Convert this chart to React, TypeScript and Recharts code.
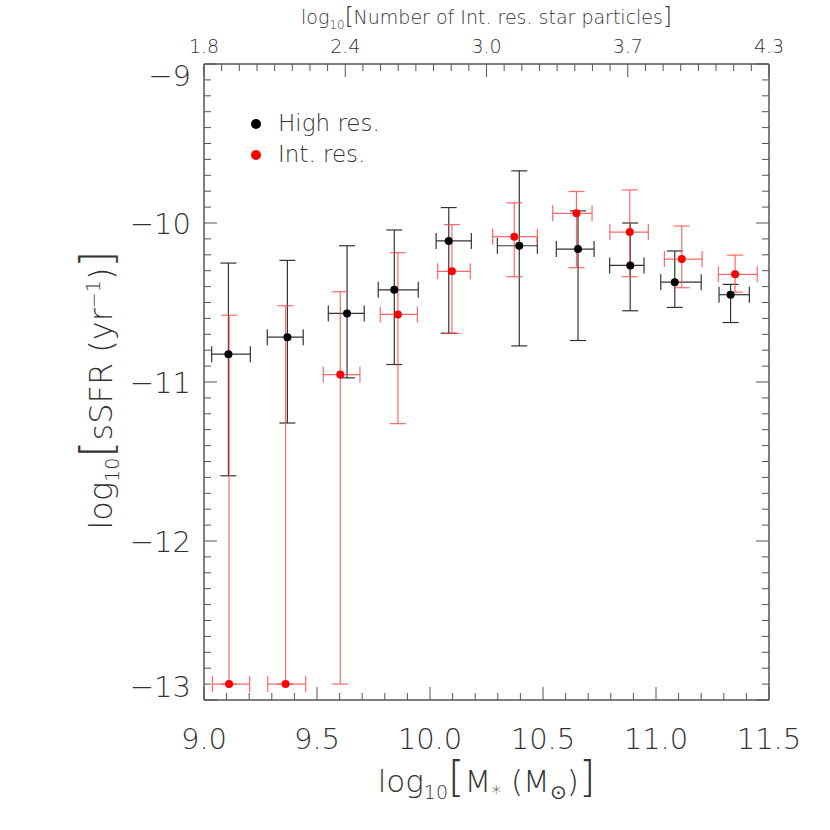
import { ScatterChart, Scatter, XAxis, YAxis, ErrorBar } from "recharts";

// High res. sample
const massHigh = [9.108, 9.369, 9.633, 9.842, 10.083, 10.395, 10.655, 10.886, 11.083, 11.33];
const ssfrHigh = [-10.825, -10.718, -10.569, -10.42, -10.113, -10.143, -10.164, -10.267, -10.372, -10.451];
const massLoHigh = [9.034, 9.28, 9.55, 9.771, 10.027, 10.298, 10.559, 10.795, 11.021, 11.279];
const massHiHigh = [9.205, 9.439, 9.709, 9.948, 10.183, 10.475, 10.726, 10.947, 11.2, 11.413];
const ssfrLoHigh = [-11.59, -11.258, -10.974, -10.89, -10.693, -10.773, -10.739, -10.552, -10.531, -10.626];
const ssfrHiHigh = [-10.252, -10.235, -10.143, -10.044, -9.903, -9.672, -9.924, -10.0, -10.176, -10.386];

// Int. res. sample
const massInt = [9.111, 9.361, 9.603, 9.858, 10.097, 10.373, 10.648, 10.884, 11.114, 11.35];
const ssfrInt = [-12.9, -12.9, -10.953, -10.575, -10.304, -10.086, -9.939, -10.057, -10.227, -10.323];
const massLoInt = [9.037, 9.282, 9.528, 9.78, 10.034, 10.277, 10.543, 10.796, 11.037, 11.276];
const massHiInt = [9.202, 9.45, 9.69, 9.944, 10.178, 10.475, 10.717, 10.966, 11.204, 11.448];
const ssfrLoInt = [-12.9, -12.9, -12.9, -11.262, -10.695, -10.338, -10.281, -10.338, -10.407, -10.435];
const ssfrHiInt = [-10.58, -10.52, -10.432, -10.187, -10.01, -9.873, -9.802, -9.792, -10.019, -10.202];

// axes
const xMajor = [9.0, 9.5, 10.0, 10.5, 11.0, 11.5];
const yMajor = [-9, -10, -11, -12, -13];
const topLabels = ["1.8", "2.4", "3.0", "3.7", "4.3"];

const X_MIN = 9.0;
const X_MAX = 11.5;
const Y_MIN = -13;
const Y_MAX = -9;

const FONT = '"DejaVu Sans", sans-serif';
const TEXT = "#333";
const AXIS = "#555";

function buildRows(mass: number[], ssfr: number[], xlo: number[], xhi: number[], ylo: number[], yhi: number[]) {
  return mass.map((m, i) => ({
    mass: m,
    ssfr: ssfr[i],
    ex: [m - xlo[i], xhi[i] - m],
    ey: [ssfr[i] - ylo[i], yhi[i] - ssfr[i]],
  }));
}

const highRows = buildRows(massHigh, ssfrHigh, massLoHigh, massHiHigh, ssfrLoHigh, ssfrHiHigh);
const intRows = buildRows(massInt, ssfrInt, massLoInt, massHiInt, ssfrLoInt, ssfrHiInt);

// minor ticks every 0.1
const xTicks: number[] = [];
for (let i = 0; i <= 25; i++) xTicks.push(Math.round((X_MIN + i * 0.1) * 10) / 10);
const yTicks: number[] = [];
for (let i = 0; i <= 40; i++) yTicks.push(Math.round((Y_MIN + i * 0.1) * 10) / 10);
const topTicks: number[] = [];
for (let i = 0; i <= 32; i++) topTicks.push(X_MIN + (i * (X_MAX - X_MIN)) / 32);

const near = (a: number, b: number) => Math.abs(a - b) < 1e-6;

function BottomTick({ x, y, payload }: any) {
  const v = payload.value;
  const major = xMajor.some((m) => near(m, v));
  return (
    <g>
      <line x1={x} x2={x} y1={y} y2={y - (major ? 13 : 7)} stroke={AXIS} strokeWidth={1} />
      {major && (
        <text x={x} y={y + 49} textAnchor="middle" fontSize={29} fontFamily={FONT} fontWeight={200} fill={TEXT}>
          {v.toFixed(1)}
        </text>
      )}
    </g>
  );
}

function TopTick({ x, y, index }: any) {
  const major = index % 8 === 0;
  return (
    <g>
      <line x1={x} x2={x} y1={y} y2={y + (major ? 13 : 7)} stroke={AXIS} strokeWidth={1} />
      {major && (
        <text x={x} y={y - 11} textAnchor="middle" fontSize={19} fontFamily={FONT} fontWeight={200} fill={TEXT}>
          {topLabels[index / 8]}
        </text>
      )}
    </g>
  );
}

function LeftTick({ x, y, payload }: any) {
  const v = payload.value;
  const major = yMajor.some((m) => near(m, v));
  let shift = 0;
  if (near(v, Y_MAX)) shift = 11;
  if (near(v, Y_MIN)) shift = -14;
  return (
    <g>
      <line x1={x} x2={x + (major ? 13 : 7)} y1={y} y2={y} stroke={AXIS} strokeWidth={1} />
      {major && (
        <text
          x={x - 13}
          y={y + shift + 11}
          textAnchor="end"
          fontSize={29}
          fontFamily={FONT}
          fontWeight={200}
          fill={TEXT}
        >
          {"\u2212" + Math.abs(v)}
        </text>
      )}
    </g>
  );
}

function RightTick({ x, y, payload }: any) {
  const v = payload.value;
  const major = yMajor.some((m) => near(m, v));
  return <line x1={x} x2={x - (major ? 13 : 7)} y1={y} y2={y} stroke={AXIS} strokeWidth={1} />;
}

const dot = (color: string) => (props: any) => <circle cx={props.cx} cy={props.cy} r={4} fill={color} />;

export default function App() {
  return (
    <div style={{ position: "absolute", left: 0, top: 0, width: 830, height: 830, background: "#fff" }}>
      <ScatterChart width={830} height={830} margin={{ top: 34, right: 1, bottom: 100, left: 144 }}>
        <XAxis
          xAxisId="b"
          type="number"
          dataKey="mass"
          domain={[X_MIN, X_MAX]}
          ticks={xTicks}
          interval={0}
          tick={<BottomTick />}
          tickSize={0}
          tickMargin={0}
          tickLine={false}
          axisLine={{ stroke: AXIS, strokeWidth: 1.5 }}
          allowDataOverflow
          height={30}
        />
        <XAxis
          xAxisId="t"
          orientation="top"
          type="number"
          dataKey="mass"
          domain={[X_MIN, X_MAX]}
          ticks={topTicks}
          interval={0}
          tick={<TopTick />}
          tickSize={0}
          tickMargin={0}
          tickLine={false}
          axisLine={{ stroke: AXIS, strokeWidth: 1.5 }}
          allowDataOverflow
          height={30}
        />
        <YAxis
          yAxisId="l"
          type="number"
          dataKey="ssfr"
          domain={[Y_MIN, Y_MAX]}
          ticks={yTicks}
          interval={0}
          tick={<LeftTick />}
          tickSize={0}
          tickMargin={0}
          tickLine={false}
          axisLine={{ stroke: AXIS, strokeWidth: 1.5 }}
          allowDataOverflow
          width={60}
        />
        <YAxis
          yAxisId="r"
          orientation="right"
          type="number"
          dataKey="ssfr"
          domain={[Y_MIN, Y_MAX]}
          ticks={yTicks}
          interval={0}
          tick={<RightTick />}
          tickSize={0}
          tickMargin={0}
          tickLine={false}
          axisLine={{ stroke: AXIS, strokeWidth: 1.5 }}
          allowDataOverflow
          width={60}
        />
        <Scatter
          name="High res."
          data={highRows}
          xAxisId="b"
          yAxisId="l"
          fill="#000"
          shape={dot("#000")}
          isAnimationActive={false}
        >
          <ErrorBar dataKey="ex" direction="x" width={8} stroke="#333" strokeWidth={1.2} isAnimationActive={false} />
          <ErrorBar dataKey="ey" direction="y" width={8} stroke="#333" strokeWidth={1.2} isAnimationActive={false} />
        </Scatter>
        <Scatter
          name="Int. res."
          data={intRows}
          xAxisId="b"
          yAxisId="l"
          fill="#ff0000"
          shape={dot("#ff0000")}
          isAnimationActive={false}
        >
          <ErrorBar dataKey="ex" direction="x" width={8} stroke="#ff4444" strokeOpacity={0.8} strokeWidth={1.2} isAnimationActive={false} />
          <ErrorBar dataKey="ey" direction="y" width={8} stroke="#ff4444" strokeOpacity={0.8} strokeWidth={1.2} isAnimationActive={false} />
        </Scatter>
      </ScatterChart>

      {/* legend */}
      <div style={{ position: "absolute", left: 251, top: 108, fontFamily: FONT, fontWeight: 200, fontSize: 23, color: TEXT, lineHeight: "31px" }}>
        <div style={{ display: "flex", alignItems: "center" }}>
          <span style={{ display: "inline-block", width: 10, height: 10, borderRadius: 5, background: "#000", marginRight: 17 }} />
          <span>High res.</span>
        </div>
        <div style={{ display: "flex", alignItems: "center" }}>
          <span style={{ display: "inline-block", width: 10, height: 10, borderRadius: 5, background: "#ff0000", marginRight: 17 }} />
          <span>Int. res.</span>
        </div>
      </div>

      {/* top title */}
      <div style={{ position: "absolute", left: 204, width: 565, top: 4, textAlign: "center", fontFamily: FONT, fontWeight: 200, fontSize: 19, lineHeight: "24px", color: TEXT, whiteSpace: "nowrap" }}>
        log<sub style={{ fontSize: 12, lineHeight: 0 }}>10</sub>
        <span style={{ fontSize: 23 }}>[</span>Number of Int. res. star particles<span style={{ fontSize: 23 }}>]</span>
      </div>

      {/* bottom title */}
      <div style={{ position: "absolute", left: 204, width: 565, top: 758, textAlign: "center", fontFamily: FONT, fontWeight: 200, fontSize: 31, lineHeight: "40px", color: TEXT, whiteSpace: "nowrap" }}>
        log<sub style={{ fontSize: 19, lineHeight: 0 }}>10</sub>
        <span style={{ fontSize: 42, lineHeight: "40px" }}>[</span>M<sub style={{ fontSize: 20, lineHeight: 0 }}>*</sub> (M<sub style={{ fontSize: 20, lineHeight: 0 }}>⊙</sub>)
        <span style={{ fontSize: 42, lineHeight: "40px" }}>]</span>
      </div>

      {/* left title */}
      <div
        style={{
          position: "absolute",
          left: 97,
          top: 390,
          transform: "translate(-50%, -50%) rotate(-90deg)",
          fontFamily: FONT,
          fontWeight: 200,
          fontSize: 32,
          color: TEXT,
          whiteSpace: "nowrap",
        }}
      >
        log<sub style={{ fontSize: 19 }}>10</sub>
        <span style={{ fontSize: 44 }}>[</span>sSFR (yr<sup style={{ fontSize: 19 }}>−1</sup>)
        <span style={{ fontSize: 44 }}>]</span>
      </div>
    </div>
  );
}
